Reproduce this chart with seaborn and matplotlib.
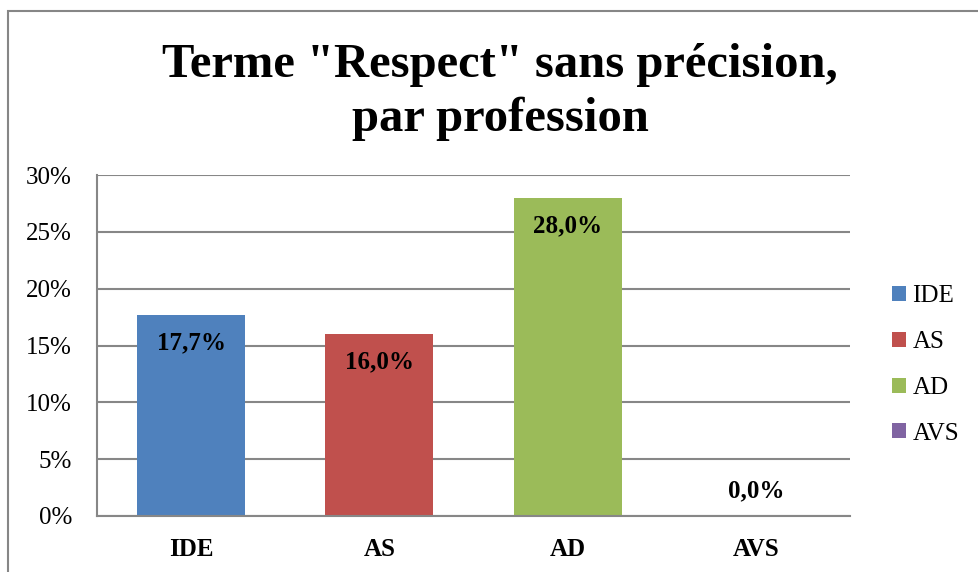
import matplotlib
matplotlib.use("Agg")
import matplotlib.pyplot as plt
import matplotlib.patches as mpatches
import seaborn as sns
import pandas as pd

categories = ["IDE", "AS", "AD", "AVS"]
values = [0.177, 0.160, 0.280, 0.000]
labels = ["17,7%", "16,0%", "28,0%", "0,0%"]
yticks = [0, 0.05, 0.10, 0.15, 0.20, 0.25, 0.30]
ytick_labels = ["0%", "5%", "10%", "15%", "20%", "25%", "30%"]
colors = ["#4F81BD", "#C0504D", "#9BBB59", "#8064A2"]
title = "Terme \"Respect\" sans précision,\npar profession"

sns.set_theme(style="white")
plt.rcParams["font.family"] = ["Liberation Serif", "DejaVu Serif"]
plt.rcParams["text.color"] = "black"
plt.rcParams["xtick.color"] = "black"
plt.rcParams["ytick.color"] = "black"

df = pd.DataFrame({"cat": categories, "val": values})

W, H = 979, 572
fig = plt.figure(figsize=(W / 100, H / 100), dpi=100)
ax = fig.add_axes([97 / W, 1 - 516 / H, (850 - 97) / W, (516 - 175) / H])

sns.barplot(data=df, x="cat", y="val", hue="cat", palette=colors, dodge=False,
            width=0.575, legend=False, ax=ax, saturation=1, linewidth=0)

ax.set_ylim(0, 0.30)
ax.set_xlim(-0.5, 3.5)
ax.set_yticks(yticks)
ax.set_yticklabels(ytick_labels, fontsize=18, color="black")
ax.set_xlabel("")
ax.set_ylabel("")
for t in ax.get_xticklabels():
    t.set_fontweight("bold")
    t.set_fontsize(18)
    t.set_color("black")
ax.tick_params(axis="y", length=0, pad=18, labelcolor="black")
ax.tick_params(axis="x", length=0, pad=16, labelcolor="black")
ax.yaxis.grid(True, color="#878787", linewidth=1.5)
ax.set_axisbelow(True)
for s in ["top", "right"]:
    ax.spines[s].set_visible(False)
for s in ["left", "bottom"]:
    ax.spines[s].set_color("#878787")
    ax.spines[s].set_linewidth(1.5)

for i, (v, lab) in enumerate(zip(values, labels)):
    off = -20 if v > 0 else 18
    ax.annotate(lab, (i, v), xytext=(0, off), textcoords="offset points",
                ha="center", va="center", fontsize=18, fontweight="bold",
                color="black")

handles = [mpatches.Patch(facecolor=c, edgecolor="none", label=l)
           for c, l in zip(colors, categories)]
leg = fig.legend(handles=handles, loc="center left",
                 bbox_to_anchor=(880 / W, 1 - 365 / H), frameon=False,
                 fontsize=18, handlelength=0.55, handleheight=0.55,
                 handletextpad=0.25, labelspacing=0.95, borderpad=0)
for t in leg.get_texts():
    t.set_color("black")

fig.text(500 / W, 1 - 92 / H, title, ha="center", va="center",
         fontsize=35, fontweight="bold", linespacing=1.3, color="black")

border = mpatches.Rectangle((8 / W, -0.1), 1.2, 1 - 11 / H + 0.1,
                            transform=fig.transFigure, fill=False,
                            edgecolor="#868686", linewidth=1.5)
fig.patches.append(border)

fig.savefig("out.png", dpi=100)
